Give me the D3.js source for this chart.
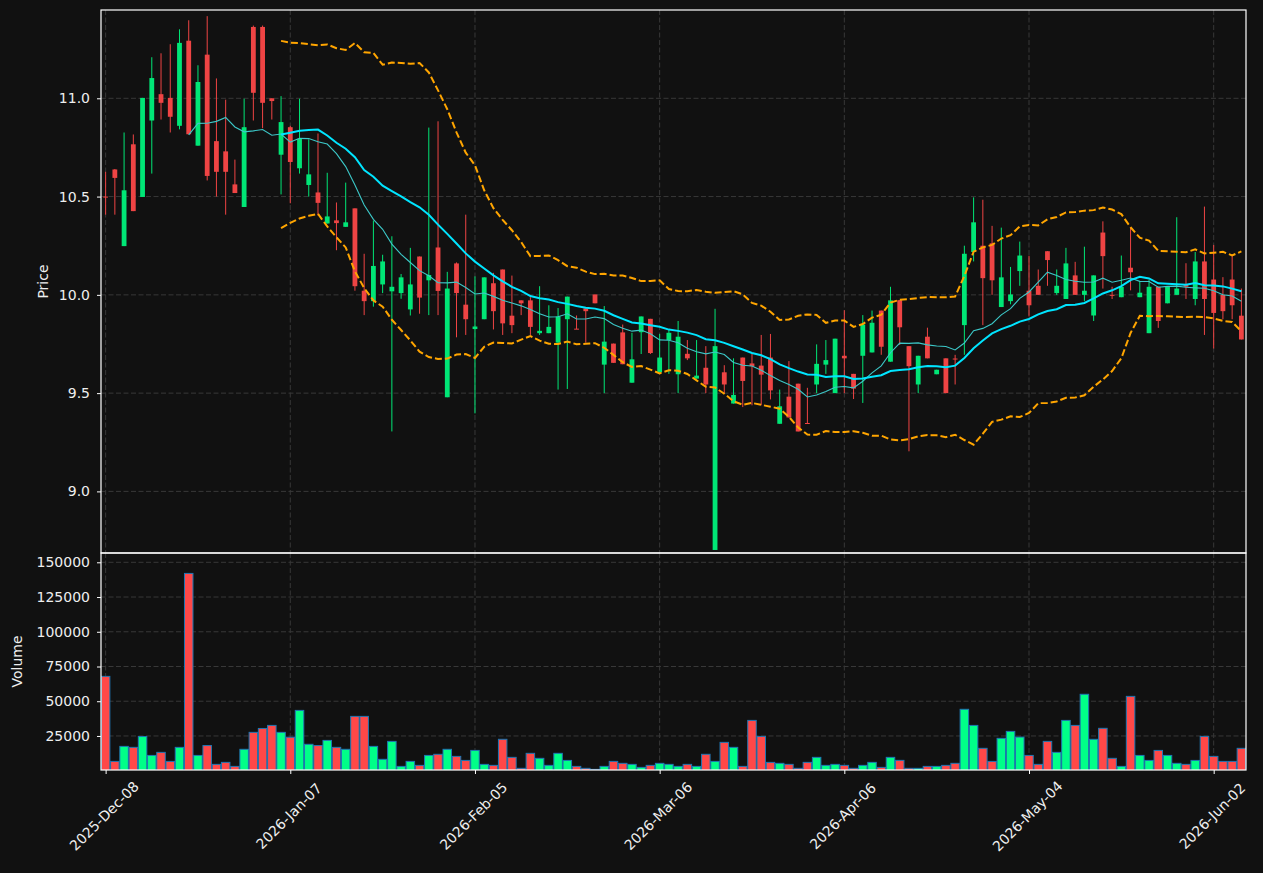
<!DOCTYPE html>
<html>
<head>
<meta charset="utf-8">
<script src="https://cdn.jsdelivr.net/npm/d3@7"></script>
<style>
  body { margin: 0; background: #111111; }
  svg text { font-family: "DejaVu Sans", sans-serif; }
</style>
</head>
<body>
<div id="chart"></div>
<script>
// trading-day index of each labelled x tick
var tickIndex = [0, 20, 40, 60, 80, 100, 120];
var tickLabels = ["2025-Dec-08", "2026-Jan-07", "2026-Feb-05", "2026-Mar-06", "2026-Apr-06", "2026-May-04", "2026-Jun-02"];
var priceTicks = [9.0, 9.5, 10.0, 10.5, 11.0];
var volumeTicks = [25000, 50000, 75000, 100000, 125000, 150000];

var openP = [
 10.500, 10.638, 10.248, 10.766, 10.498, 10.887, 11.021, 11.002, 10.860, 11.293,
 10.759, 11.222, 10.782, 10.730, 10.562, 10.447, 11.363, 11.363, 11.000, 10.713,
 10.853, 10.644, 10.559, 10.521, 10.363, 10.379, 10.346, 10.440, 10.021, 9.968,
 10.053, 10.018, 10.009, 9.926, 10.195, 10.074, 10.241, 9.479, 10.160, 9.950,
 9.826, 9.876, 10.059, 10.129, 9.894, 9.972, 9.972, 9.805, 9.805, 9.757,
 9.876, 9.828, 9.931, 10.002, 9.645, 9.752, 9.809, 9.553, 9.810, 9.878,
 9.606, 9.770, 9.596, 9.700, 9.574, 9.629, 8.702, 9.606, 9.447, 9.681,
 9.651, 9.640, 9.681, 9.344, 9.482, 9.548, 9.348, 9.544, 9.645, 9.500,
 9.690, 9.598, 9.690, 9.707, 9.920, 9.660, 9.973, 9.739, 9.544, 9.787,
 9.596, 9.677, 9.676, 9.846, 10.218, 10.250, 10.262, 9.938, 9.968, 10.121,
 10.021, 10.046, 10.222, 10.009, 9.979, 10.099, 10.000, 9.895, 10.317, 10.000,
 9.988, 10.138, 9.988, 9.805, 10.041, 9.957, 10.000, 10.050, 9.979, 10.170,
 10.078, 10.000, 10.078, 9.894
];
var highP = [
 10.626, 10.640, 10.826, 10.816, 11.002, 11.209, 11.229, 11.275, 11.351, 11.397,
 11.168, 11.418, 11.101, 10.993, 10.688, 10.998, 11.370, 11.370, 11.000, 11.011,
 10.860, 10.998, 10.791, 10.821, 10.621, 10.470, 10.571, 10.440, 10.209, 10.378,
 10.204, 10.298, 10.106, 10.239, 10.195, 10.851, 10.883, 10.117, 10.165, 10.408,
 10.094, 10.089, 10.112, 10.129, 10.098, 9.972, 9.988, 10.044, 9.947, 9.933,
 9.991, 9.895, 9.931, 10.002, 9.943, 9.752, 9.849, 9.807, 9.890, 9.878,
 9.801, 9.823, 9.867, 9.770, 9.770, 9.739, 9.929, 9.642, 9.677, 9.681,
 9.699, 9.796, 9.801, 9.518, 9.663, 9.548, 9.527, 9.748, 9.770, 9.777,
 9.922, 9.598, 9.897, 9.920, 9.920, 10.041, 9.973, 9.739, 9.690, 9.833,
 9.619, 9.677, 9.695, 10.250, 10.496, 10.484, 10.351, 10.342, 10.142, 10.271,
 10.199, 10.129, 10.222, 10.129, 10.239, 10.168, 10.245, 10.099, 10.374, 10.041,
 10.200, 10.342, 10.067, 10.076, 10.041, 10.041, 10.395, 10.161, 10.218, 10.449,
 10.254, 10.090, 10.204, 10.032
];
var lowP = [
 10.408, 10.408, 10.248, 10.426, 10.498, 10.617, 10.892, 10.826, 10.842, 10.817,
 10.759, 10.582, 10.500, 10.408, 10.518, 10.447, 10.887, 10.848, 10.892, 10.511,
 10.466, 10.617, 10.500, 10.404, 10.363, 10.227, 10.346, 10.021, 9.897, 9.940,
 10.009, 9.305, 9.980, 9.895, 9.904, 9.897, 9.897, 9.479, 9.784, 9.796,
 9.397, 9.876, 9.824, 9.796, 9.805, 9.897, 9.796, 9.796, 9.805, 9.518,
 9.521, 9.826, 9.757, 9.957, 9.500, 9.654, 9.647, 9.553, 9.699, 9.699,
 9.606, 9.598, 9.500, 9.668, 9.574, 9.500, 8.702, 9.500, 9.447, 9.429,
 9.438, 9.438, 9.468, 9.344, 9.376, 9.305, 9.346, 9.500, 9.598, 9.500,
 9.500, 9.470, 9.450, 9.707, 9.695, 9.660, 9.745, 9.204, 9.500, 9.677,
 9.596, 9.500, 9.544, 9.695, 10.170, 9.846, 10.000, 9.938, 9.952, 10.046,
 9.890, 10.000, 10.046, 10.000, 9.979, 10.000, 9.968, 9.867, 10.032, 9.979,
 9.988, 10.023, 9.988, 9.805, 9.832, 9.957, 10.000, 9.979, 9.947, 9.796,
 9.727, 9.876, 9.876, 9.773
];
var closeP = [
 10.495, 10.595, 10.532, 10.426, 11.002, 11.103, 10.977, 10.906, 11.282, 10.817,
 11.083, 10.605, 10.626, 10.626, 10.518, 10.853, 11.028, 10.977, 10.986, 10.879,
 10.676, 10.794, 10.613, 10.468, 10.399, 10.365, 10.369, 10.044, 9.968, 10.147,
 10.170, 10.041, 10.089, 10.053, 9.986, 10.101, 10.020, 10.032, 10.009, 9.876,
 9.839, 10.089, 9.917, 9.855, 9.846, 9.957, 9.837, 9.817, 9.837, 9.890,
 9.991, 9.826, 9.917, 9.957, 9.762, 9.654, 9.647, 9.672, 9.890, 9.704,
 9.681, 9.807, 9.787, 9.677, 9.589, 9.544, 9.739, 9.544, 9.491, 9.562,
 9.637, 9.594, 9.514, 9.433, 9.376, 9.305, 9.346, 9.649, 9.668, 9.777,
 9.677, 9.523, 9.849, 9.858, 9.736, 9.972, 9.835, 9.637, 9.690, 9.677,
 9.619, 9.500, 9.672, 10.209, 10.369, 10.085, 10.074, 10.089, 10.002, 10.200,
 9.947, 10.000, 10.177, 10.046, 10.160, 10.000, 10.021, 10.099, 10.197, 9.998,
 10.041, 10.115, 10.011, 10.041, 9.867, 10.041, 10.032, 10.041, 10.170, 9.979,
 9.908, 9.917, 9.947, 9.773
];
var volume = [
 67900, 6700, 17500, 16800, 24600, 11000, 13200, 6700, 16800, 142000,
 11000, 18100, 4560, 6000, 3100, 15400, 27600, 30400, 32600, 27600,
 24100, 43400, 19000, 18100, 21800, 16800, 15400, 39100, 39100, 17500,
 8200, 21100, 3100, 6700, 3840, 11000, 11800, 15400, 10300, 7400,
 14600, 4560, 3840, 22600, 9600, 1700, 12500, 8900, 3840, 12500,
 7400, 3100, 1700, 960, 3100, 6700, 5300, 4560, 2400, 3840,
 5300, 4560, 3100, 4560, 3100, 11800, 6700, 20400, 16800, 3100,
 36200, 24700, 6000, 5300, 4560, 1700, 6000, 9600, 3840, 4560,
 3840, 1700, 3840, 6000, 2400, 9600, 7440, 1700, 1700, 3100,
 3100, 3840, 5300, 44200, 32600, 16100, 6700, 23300, 28300, 24200,
 11000, 4560, 21100, 13200, 36200, 32600, 55000, 22600, 30500, 8900,
 3100, 53500, 11000, 7400, 14600, 11000, 5300, 4560, 7400, 24700,
 10300, 6700, 6700, 16100
];

var svgWidth = 1263;
var svgHeight = 873;
var left = 101, right = 1246;
var priceTop = 10, priceBottom = 553;
var volTop = 553, volBottom = 770;

var upColor = "#00e676", downColor = "#ef4444";
var volUp = "#00ff88", volDown = "#ff4848";
var textColor = "#eeeeee";
var gridColor = "#383838";

var bars = closeP.map(function(c, i) {
  return { i: i, o: openP[i], h: highP[i], l: lowP[i], c: c, v: volume[i], up: c > openP[i] };
});
var n = bars.length;

// moving averages and bollinger bands from the closes
function rollingMean(arr, w) {
  return arr.map(function(d, i) {
    return i < w - 1 ? null : d3.mean(arr.slice(i - w + 1, i + 1));
  });
}
function rollingStd(arr, w) {
  return arr.map(function(d, i) {
    if (i < w - 1) return null;
    var s = arr.slice(i - w + 1, i + 1), m = d3.mean(s);
    return Math.sqrt(d3.mean(s, function(v) { return (v - m) * (v - m); }));
  });
}
var ma10 = rollingMean(closeP, 10);
var ma20 = rollingMean(closeP, 20);
var sd20 = rollingStd(closeP, 20);
var bbUpper = ma20.map(function(m, i) { return m == null ? null : m + 2 * sd20[i]; });
var bbLower = ma20.map(function(m, i) { return m == null ? null : m - 2 * sd20[i]; });

var x = d3.scaleLinear().domain([-0.5, n - 0.5]).range([left, right]);
var yPrice = d3.scaleLinear().domain([9, 11]).range([491.4, 98.3]);
var yVol = d3.scaleLinear().domain([0, 150000]).range([770.7, 562.3]);
var step = x(1) - x(0);

var svg = d3.select("#chart")
  .append("svg")
  .attr("width", svgWidth)
  .attr("height", svgHeight)
  .style("background", "#111111");

var defs = svg.append("defs");
defs.append("clipPath").attr("id", "clipPrice").append("rect")
  .attr("x", left).attr("y", priceTop).attr("width", right - left).attr("height", priceBottom - priceTop);
defs.append("clipPath").attr("id", "clipVol").append("rect")
  .attr("x", left).attr("y", volTop).attr("width", right - left).attr("height", volBottom - volTop);

// grid
var grid = svg.append("g")
  .attr("stroke", gridColor)
  .attr("stroke-width", 1)
  .attr("stroke-dasharray", "5,2.5");
grid.selectAll(".gp").data(priceTicks).enter().append("line")
  .attr("x1", left).attr("x2", right)
  .attr("y1", function(d) { return yPrice(d); })
  .attr("y2", function(d) { return yPrice(d); });
grid.selectAll(".gv").data(volumeTicks).enter().append("line")
  .attr("x1", left).attr("x2", right)
  .attr("y1", function(d) { return yVol(d); })
  .attr("y2", function(d) { return yVol(d); });
grid.selectAll(".gx1").data(tickIndex).enter().append("line")
  .attr("x1", function(d) { return x(d); }).attr("x2", function(d) { return x(d); })
  .attr("y1", priceTop).attr("y2", priceBottom);
grid.selectAll(".gx2").data(tickIndex).enter().append("line")
  .attr("x1", function(d) { return x(d); }).attr("x2", function(d) { return x(d); })
  .attr("y1", volTop).attr("y2", volBottom);

// candles
var priceG = svg.append("g").attr("clip-path", "url(#clipPrice)");
var candle = priceG.selectAll(".candle").data(bars).enter().append("g");
candle.append("line")
  .attr("x1", function(d) { return x(d.i); })
  .attr("x2", function(d) { return x(d.i); })
  .attr("y1", function(d) { return yPrice(d.h); })
  .attr("y2", function(d) { return yPrice(d.l); })
  .attr("stroke", function(d) { return d.up ? upColor : downColor; })
  .attr("stroke-width", 1);
var bodyW = step * 0.52;
candle.append("rect")
  .attr("x", function(d) { return x(d.i) - bodyW / 2; })
  .attr("width", bodyW)
  .attr("y", function(d) { return yPrice(Math.max(d.o, d.c)); })
  .attr("height", function(d) { return Math.max(1, Math.abs(yPrice(d.o) - yPrice(d.c))); })
  .attr("fill", function(d) { return d.up ? upColor : downColor; });

// overlays
function lineOf(vals) {
  return d3.line()
    .defined(function(d) { return d != null; })
    .x(function(d, i) { return x(i); })
    .y(function(d) { return yPrice(d); })(vals);
}
priceG.append("path").attr("d", lineOf(bbUpper))
  .attr("fill", "none").attr("stroke", "#ffa500").attr("stroke-width", 2).attr("stroke-dasharray", "7,3");
priceG.append("path").attr("d", lineOf(bbLower))
  .attr("fill", "none").attr("stroke", "#ffa500").attr("stroke-width", 2).attr("stroke-dasharray", "7,3");
priceG.append("path").attr("d", lineOf(ma10))
  .attr("fill", "none").attr("stroke", "#3cc8c8").attr("stroke-width", 1.1);
priceG.append("path").attr("d", lineOf(ma20))
  .attr("fill", "none").attr("stroke", "#00e5ff").attr("stroke-width", 2);

// volume
var volG = svg.append("g").attr("clip-path", "url(#clipVol)");
var volW = step * 0.92;
volG.selectAll(".vol").data(bars).enter().append("rect")
  .attr("x", function(d) { return x(d.i) - volW / 2; })
  .attr("width", volW)
  .attr("y", function(d) { return yVol(d.v); })
  .attr("height", function(d) { return yVol(0) - yVol(d.v); })
  .attr("fill", function(d) { return d.up ? volUp : volDown; })
  .attr("stroke", "#1f77b4")
  .attr("stroke-width", 1);

// axes
function styleAxis(g) {
  g.select(".domain").remove();
  g.selectAll(".tick line").attr("stroke", "#ffffff");
  g.selectAll(".tick text").attr("fill", textColor).style("font-size", "14px");
}
svg.append("g")
  .attr("transform", "translate(" + left + ",0)")
  .call(d3.axisLeft(yPrice).tickValues(priceTicks).tickSize(4).tickPadding(7).tickFormat(d3.format(".1f")))
  .call(styleAxis);
svg.append("g")
  .attr("transform", "translate(" + left + ",0)")
  .call(d3.axisLeft(yVol).tickValues(volumeTicks).tickSize(4).tickPadding(7).tickFormat(d3.format("d")))
  .call(styleAxis);
var xAxisG = svg.append("g")
  .attr("transform", "translate(0," + volBottom + ")")
  .call(d3.axisBottom(x).tickValues(tickIndex).tickSize(4).tickFormat(function(d, i) { return tickLabels[i]; }))
  .call(styleAxis);
xAxisG.selectAll(".tick text")
  .attr("text-anchor", "middle")
  .attr("dy", null)
  .attr("y", null)
  .attr("dominant-baseline", "central")
  .attr("transform", "translate(-2,46) rotate(-45)");

// spines
svg.append("rect")
  .attr("x", left).attr("y", priceTop).attr("width", right - left).attr("height", priceBottom - priceTop)
  .attr("fill", "none").attr("stroke", "#ffffff").attr("stroke-width", 1.2);
svg.append("rect")
  .attr("x", left).attr("y", volTop).attr("width", right - left).attr("height", volBottom - volTop)
  .attr("fill", "none").attr("stroke", "#ffffff").attr("stroke-width", 1.2);

// axis titles
svg.append("text")
  .attr("transform", "translate(43," + (priceTop + priceBottom) / 2 + ") rotate(-90)")
  .attr("text-anchor", "middle")
  .attr("dominant-baseline", "central")
  .attr("fill", textColor)
  .style("font-size", "14px")
  .text("Price");
svg.append("text")
  .attr("transform", "translate(17," + (volTop + volBottom) / 2 + ") rotate(-90)")
  .attr("text-anchor", "middle")
  .attr("dominant-baseline", "central")
  .attr("fill", textColor)
  .style("font-size", "14px")
  .text("Volume");
</script>
</body>
</html>
